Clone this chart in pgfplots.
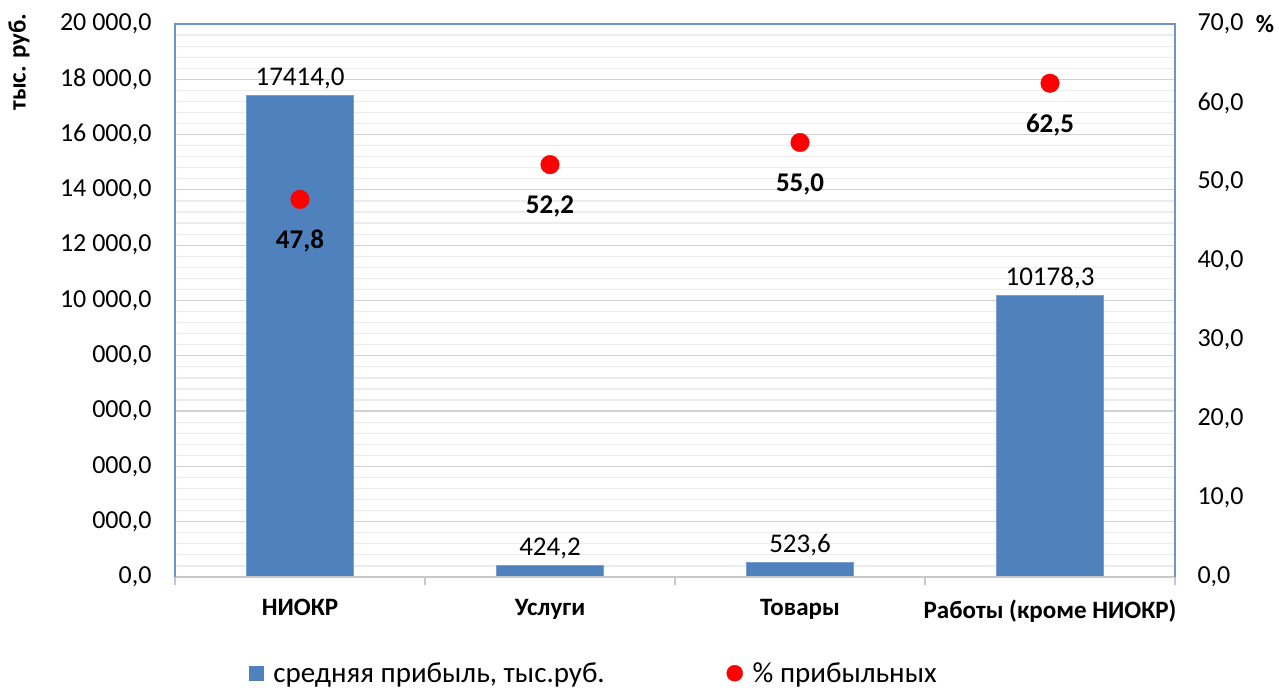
\documentclass[border=0pt]{standalone}
\usepackage{pgfplots}
\pgfplotsset{compat=1.18}
\usepackage{fontspec}
\setmainfont{Carlito}
\definecolor{barblue}{HTML}{4F81BD}
\definecolor{baredge}{HTML}{7A9FD0}
\definecolor{frameblue}{HTML}{6F95C8}
\definecolor{majgrid}{HTML}{D2D2D2}
\definecolor{mingrid}{HTML}{ECECEC}
\definecolor{bottomgray}{HTML}{C8C8C8}
\begin{document}
\begin{tikzpicture}[x=1pt,y=1pt]
\path[use as bounding box] (0,0) rectangle (1279,692);
\begin{axis}[
  at={(175pt,115pt)}, anchor=south west,
  width=1000pt, height=553pt, scale only axis,
  xmin=-0.5, xmax=3.5, ymin=0, ymax=20000,
  scaled y ticks=false,
  axis line style={draw=none},
  xtick={0,1,2,3},
  xticklabels={НИОКР, Услуги, Товары, Работы (кроме НИОКР)},
  x tick label style={font=\fontsize{25}{29}\selectfont\bfseries, yshift=-19pt},
  ytick={0,2000,...,20000},
  yticklabels={{0,0},{000,0},{000,0},{000,0},{000,0},{10 000,0},{12 000,0},{14 000,0},{16 000,0},{18 000,0},{20 000,0}},
  y tick label style={font=\fontsize{26}{30}\selectfont, xshift=-20pt},
  minor y tick num=4,
  ymajorgrids, yminorgrids,
  major grid style={majgrid, line width=1.2pt},
  minor grid style={mingrid, line width=1.2pt},
  major tick length=0pt, minor tick length=0pt,
  xtick pos=left, ytick pos=left,
  clip=false,
]
\addplot[ybar, bar width=107pt, bar shift=0pt, fill=barblue, draw=baredge, line width=0.8pt,
  nodes near coords,
  every node near coord/.append style={font=\fontsize{27}{31}\selectfont, black, yshift=3pt},
  /pgf/number format/.cd, fixed, fixed zerofill, precision=1, use comma, 1000 sep={}, assume math mode=true]
  coordinates {(0,17414.0) (1,424.2) (2,523.6) (3,10178.3)};
\draw[bottomgray, line width=1.2pt] (rel axis cs:0,0) -- (rel axis cs:1,0);
\draw[bottomgray, line width=1.2pt] (axis cs:-0.5,0) -- ([yshift=-8pt]axis cs:-0.5,0);
\draw[bottomgray, line width=1.2pt] (axis cs:0.5,0) -- ([yshift=-8pt]axis cs:0.5,0);
\draw[bottomgray, line width=1.2pt] (axis cs:1.5,0) -- ([yshift=-8pt]axis cs:1.5,0);
\draw[bottomgray, line width=1.2pt] (axis cs:2.5,0) -- ([yshift=-8pt]axis cs:2.5,0);
\draw[bottomgray, line width=1.2pt] (axis cs:3.5,0) -- ([yshift=-8pt]axis cs:3.5,0);
\draw[frameblue, line width=1.5pt] (rel axis cs:0,0) -- (rel axis cs:0,1) -- (rel axis cs:1,1) -- (rel axis cs:1,0);
\end{axis}
\begin{axis}[
  at={(175pt,115pt)}, anchor=south west,
  width=1000pt, height=553pt, scale only axis,
  xmin=-0.5, xmax=3.5, ymin=0, ymax=70,
  axis line style={draw=none},
  xtick=\empty,
  ytick={0,10,...,70},
  yticklabels={{0,0},{10,0},{20,0},{30,0},{40,0},{50,0},{60,0},{70,0}},
  ytick pos=right, yticklabel pos=right,
  y tick label style={font=\fontsize{26}{30}\selectfont, xshift=19pt},
  major tick length=0pt,
  clip=false,
  legend columns=2,
  legend style={draw=none, fill=none, font=\fontsize{29}{33}\selectfont,
    at={(0.419,-0.174)}, anchor=center,
    /tikz/every odd column/.append style={column sep=8pt},
    /tikz/every even column/.append style={column sep=120pt}},
  legend cell align=left,
]
\addlegendimage{only marks, mark=square*, mark options={fill=barblue, draw=barblue}, mark size=7pt}
\addlegendentry{средняя прибыль, тыс.руб.}
\addlegendimage{only marks, mark=*, mark options={fill=red, draw=red}, mark size=8pt}
\addlegendentry{\% прибыльных}
\addplot[forget plot, only marks, mark=*, mark options={fill=red, draw=red}, mark size=9.3pt,
  nodes near coords,
  nodes near coords align={center},
  every node near coord/.append style={font=\fontsize{27}{31}\selectfont\bfseries, black, anchor=center, yshift=-42pt},
  /pgf/number format/.cd, fixed, fixed zerofill, precision=1, use comma, 1000 sep={}, assume math mode=true]
  coordinates {(0,47.8) (1,52.2) (2,55.0) (3,62.5)};
\end{axis}
\node[rotate=90, font=\fontsize{25}{29}\selectfont\bfseries] at (19,630) {тыс. руб.};
\node[font=\fontsize{25}{29}\selectfont\bfseries] at (1265,668) {\%};
\end{tikzpicture}
\end{document}
